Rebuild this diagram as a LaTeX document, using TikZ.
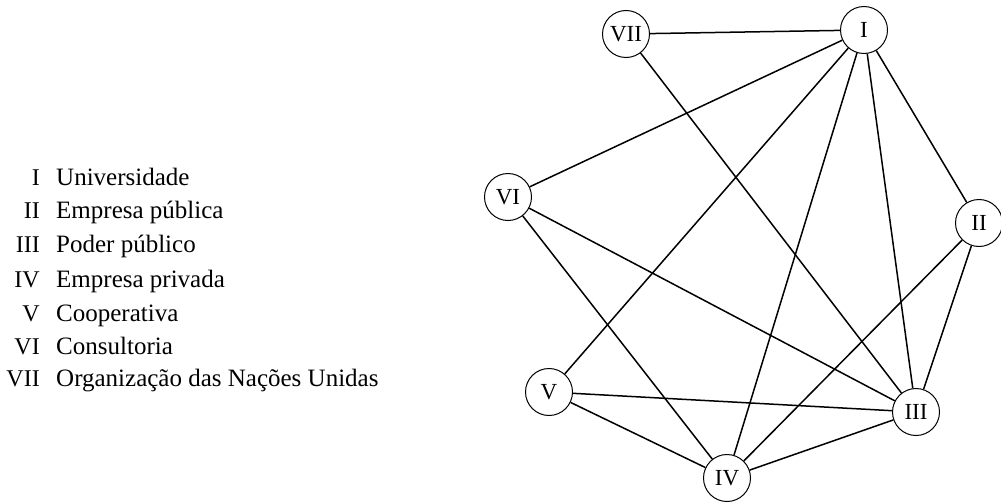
\documentclass[tikz,border=0pt]{standalone}
\usepackage{fontspec}
\setmainfont{Liberation Serif}
\begin{document}
\begin{tikzpicture}[x=1pt,y=-1pt,
  actor/.style={draw, circle, line width=1pt, minimum size=47pt, inner sep=0pt,
    font=\fontsize{23}{23}\selectfont},
  link/.style={line width=1.5pt},
  numeral/.style={anchor=base east, inner sep=0pt, font=\fontsize{24}{24}\selectfont},
  entry/.style={anchor=base west, inner sep=0pt, font=\fontsize{25}{25}\selectfont}]
\useasboundingbox (0,0) rectangle (1001,503);

% legend
\foreach \num/\txt/\yy [count=\k] in {I/Universidade/185, II/Empresa pública/218,
    III/Poder público/252, IV/Empresa privada/287, V/Cooperativa/321,
    VI/Consultoria/354, VII/Organização das Nações Unidas/386}{
  \node[numeral] (key\k) at (40,\yy) {\num};
  \node[entry] (txt\k) at (56,\yy) {\txt};
}

% actors
\node[actor] (I)   at (864,30)  {I};
\node[actor] (II)  at (979,223) {II};
\node[actor] (III) at (916,412) {III};
\node[actor] (IV)  at (727,478) {IV};
\node[actor] (V)   at (549,392) {V};
\node[actor] (VI)  at (508,197) {VI};
\node[actor] (VII) at (626,34)  {VII};

% relations
\foreach \a/\b in {VII/I, VII/III, I/VI, I/V, I/IV, I/III, I/II,
    VI/III, VI/IV, II/III, II/IV, V/III, V/IV, IV/III}
  \draw[link] (\a) -- (\b);
\end{tikzpicture}
\end{document}
